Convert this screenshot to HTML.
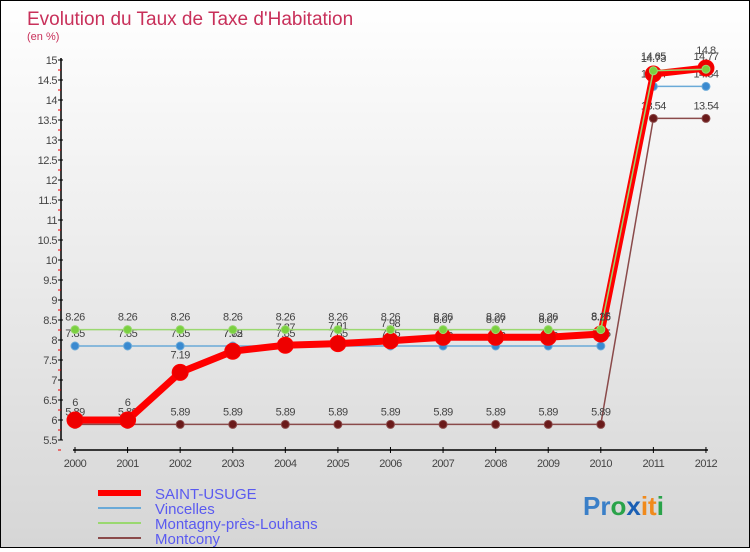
<!DOCTYPE html>
<html><head><meta charset="utf-8"><style>
html,body{margin:0;padding:0}
body{width:750px;height:550px;overflow:hidden;font-family:"Liberation Sans",sans-serif}
#wrap{position:relative;width:748px;height:546px;border:1px solid #000;background:linear-gradient(#fff,#d6d6d6)}
</style></head><body>
<div id="wrap">
<svg id="chart" width="748" height="546" xmlns="http://www.w3.org/2000/svg">
<text x="26" y="24" font-size="19" fill="#c8305a">Evolution du Taux de Taxe d'Habitation</text>
<text x="26" y="39" font-size="11" fill="#c8305a">(en %)</text>
<g id="axes"></g>
<g id="series"></g>
<g id="legend"></g>
<g font-size="26" font-weight="bold">
<text x="582" y="514"><tspan fill="#3a7fc8">Pr</tspan><tspan fill="#2aa34a">o</tspan><tspan fill="#1a5fb4">x</tspan><tspan fill="#f08a1c">it</tspan><tspan fill="#2aa34a">i</tspan></text>
</g>
</svg>
</div>
<script>
const years=[2000,2001,2002,2003,2004,2005,2006,2007,2008,2009,2010,2011,2012];
const saintUsuge=[6,6,7.19,7.72,7.87,7.91,7.98,8.07,8.07,8.07,8.15,14.65,14.8];
const vincelles=[7.85,7.85,7.85,7.85,7.85,7.85,7.85,7.85,7.85,7.85,7.85,14.34,14.34];
const montagny=[8.26,8.26,8.26,8.26,8.26,8.26,8.26,8.26,8.26,8.26,8.26,14.73,14.77];
const montcony=[5.89,5.89,5.89,5.89,5.89,5.89,5.89,5.89,5.89,5.89,5.89,13.54,13.54];
const yTicks=[5.5,6,6.5,7,7.5,8,8.5,9,9.5,10,10.5,11,11.5,12,12.5,13,13.5,14,14.5,15];
const NS="http://www.w3.org/2000/svg";
const x=i=>74+i*52.58;
const y=v=>439-(v-5.5)*40;
function mk(tag,attrs,parent){const e=document.createElementNS(NS,tag);for(const k in attrs)e.setAttribute(k,attrs[k]);parent.appendChild(e);return e;}
const axes=document.getElementById('axes');
let yl=mk('line',{x1:60,y1:y(15)-2,x2:60,y2:y(5.5),stroke:'#000','stroke-width':1.5},axes);


yTicks.forEach(t=>{
 mk('line',{x1:57,x2:62,y1:y(t),y2:y(t),stroke:'#000'},axes);
 mk('line',{x1:57,x2:60,y1:y(t)+10,y2:y(t)+10,stroke:'#e00'},axes);
 const tx=mk('text',{x:56,y:y(t)+4,'text-anchor':'end','font-size':11,fill:'#444','letter-spacing':'-0.5'},axes);
 tx.textContent=t;
 
 
});
let xl=mk('line',{x1:x(0)-2,y1:449,x2:x(12)+2,y2:449,stroke:'#000','stroke-width':1.5},axes);


years.forEach((yr,i)=>{
 mk('line',{x1:x(i),x2:x(i),y1:446,y2:452,stroke:'#000'},axes);
 const tx=mk('text',{x:x(i),y:466,'text-anchor':'middle','font-size':11,fill:'#444','letter-spacing':'-0.5'},axes);
 tx.textContent=yr;
 
 
});
const ser=document.getElementById('series');
function draw(data,name,color,dot,w,r,labelDy){
 const g=mk('g',{},ser);
 
 
 mk('polyline',{points:data.map((v,i)=>x(i)+','+y(v)).join(' '),fill:'none',stroke:color,'stroke-width':w,'stroke-linejoin':'round'},g);
 data.forEach((v,i)=>{
  const c=mk('circle',{cx:x(i),cy:y(v),r:r,fill:dot,stroke:color,'stroke-width':1},g);
  
  
  const t=mk('text',{x:x(i),y:y(v)+labelDy,'text-anchor':'middle','font-size':11,fill:'#444','letter-spacing':'-0.5'},g);
  t.textContent=v;
 });
}
draw(montcony,'montcony-series','#8a4a4a','#6a1a1a',1.5,4,-9);
draw(vincelles,'vincelles-series','#6aaad8','#3a8ad0',1.5,4,-9);
draw(saintUsuge,'saint-usuge-series','#f00','#e00',7,8,-14);
draw(montagny,'montagny-series','#9ad870','#7ad040',1.5,4,-9);
const lg=document.getElementById('legend');
const items=[['SAINT-USUGE','#f00',6],['Vincelles','#6aaad8',2],['Montagny-près-Louhans','#9ad870',2],['Montcony','#8a4a4a',2]];
items.forEach((it,i)=>{
 const g=mk('g',{},lg);
 
 
 const yy=492+i*15;
 mk('line',{x1:97,x2:140,y1:yy,y2:yy,stroke:it[1],'stroke-width':it[2]},g);
 const t=mk('text',{x:154,y:yy+6,'font-size':15,fill:'#5a5af0'},g);
 t.textContent=it[0];
});
</script>
</body></html>
